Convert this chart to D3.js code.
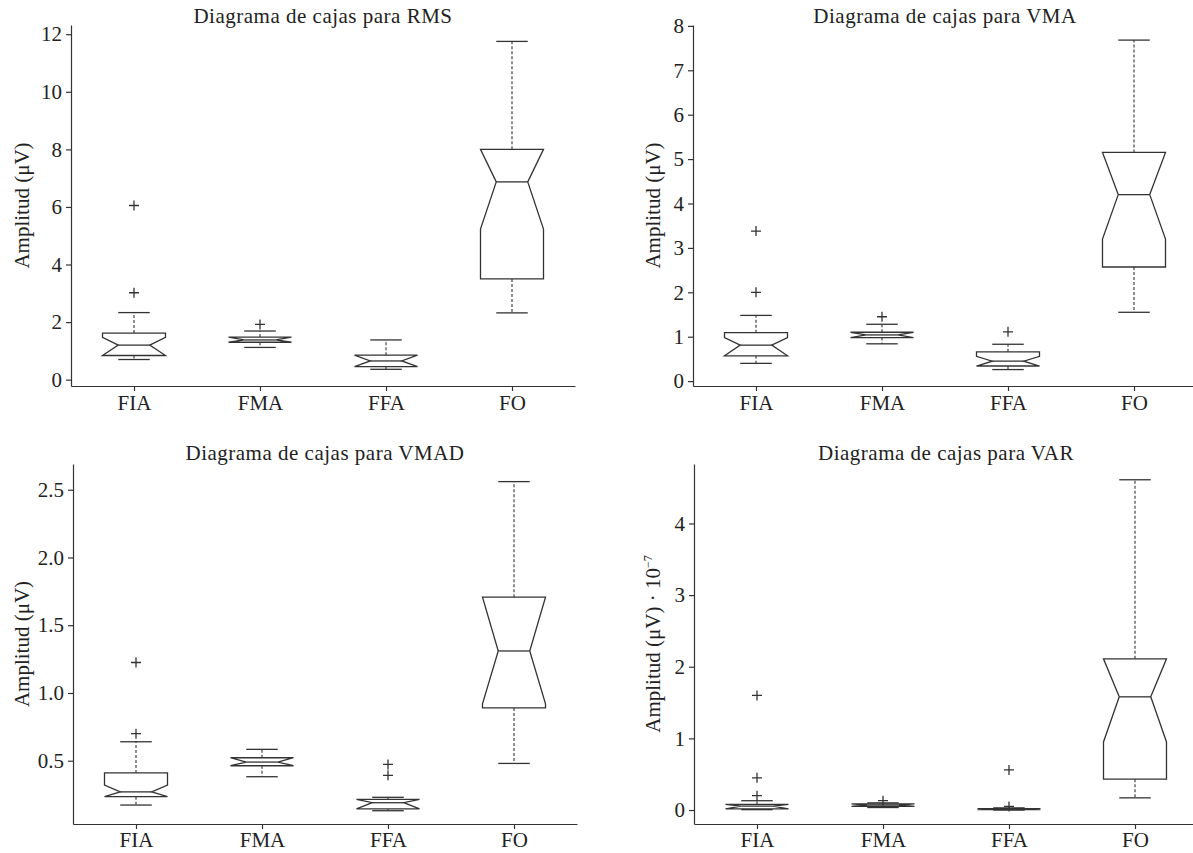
<!DOCTYPE html>
<html>
<head>
<meta charset="utf-8">
<script src="https://cdn.jsdelivr.net/npm/d3@7"></script>
<style>
  body { margin: 0; background: #fff; }
  svg { display: block; }
  .tick text { font-family: "Liberation Serif", serif; font-size: 21px; fill: #222; }
  .domain, .tick line { stroke: #333; stroke-width: 1.2; }
</style>
</head>
<body>
<div class="graph"></div>
<script>
// categories
const groups = ['FIA', 'FMA', 'FFA', 'FO'];

// box stats per group: [whiskerLow, q1, notchLow, median, notchHigh, q3, whiskerHigh]
const rmsBoxes = [
    [0.70, 0.84, 0.84, 1.20, 1.47, 1.62, 2.33],
    [1.12, 1.30, 1.30, 1.38, 1.48, 1.48, 1.69],
    [0.36, 0.45, 0.45, 0.65, 0.85, 0.85, 1.38],
    [2.32, 3.50, 5.23, 6.87, 8.00, 8.00, 11.75]
];
const rmsOutliers = [[3.02, 6.05], [1.92], [], []];

const vmaBoxes = [
    [0.40, 0.57, 0.57, 0.81, 0.98, 1.09, 1.48],
    [0.84, 0.98, 0.98, 1.04, 1.10, 1.10, 1.28],
    [0.26, 0.34, 0.34, 0.45, 0.56, 0.66, 0.83],
    [1.55, 2.57, 3.20, 4.20, 5.15, 5.15, 7.68]
];
const vmaOutliers = [[2.0, 3.38], [1.45], [1.11], []];

const vmadBoxes = [
    [0.173, 0.235, 0.235, 0.27, 0.32, 0.41, 0.64],
    [0.382, 0.463, 0.463, 0.49, 0.522, 0.522, 0.584],
    [0.131, 0.144, 0.144, 0.19, 0.215, 0.215, 0.230],
    [0.48, 0.89, 0.92, 1.31, 1.707, 1.707, 2.56]
];
const vmadOutliers = [[0.70, 1.225], [], [0.392, 0.473], []];

const varBoxes = [
    [0.005, 0.015, 0.015, 0.055, 0.08, 0.08, 0.13],
    [0.035, 0.05, 0.05, 0.07, 0.085, 0.085, 0.10],
    [0.0, 0.005, 0.005, 0.01, 0.02, 0.02, 0.03],
    [0.17, 0.43, 0.95, 1.58, 2.11, 2.11, 4.61]
];
const varOutliers = [[0.20, 0.45, 1.60], [0.13], [0.05, 0.56], []];

// axis limits and tick labels
const rmsDomain = [-0.22, 12.32];
const vmaDomain = [-0.11, 8.02];
const vmadDomain = [0.033, 2.69];
const varDomain = [-0.195, 4.83];
const rmsTicks = [0, 2, 4, 6, 8, 10, 12];
const vmaTicks = [0, 1, 2, 3, 4, 5, 6, 7, 8];
const vmadTicks = [0.5, 1.0, 1.5, 2.0, 2.5];
const varTicks = [0, 1, 2, 3, 4];

const titles = ['Diagrama de cajas para RMS', 'Diagrama de cajas para VMA',
    'Diagrama de cajas para VMAD', 'Diagrama de cajas para VAR'];

const W = 1193, H = 853;
const svg = d3.select('.graph').append('svg').attr('width', W).attr('height', H);
const ink = '#333';
const serif = '"Liberation Serif", serif';

const panels = [
    { title: titles[0], boxes: rmsBoxes, outliers: rmsOutliers, domain: rmsDomain, ticks: rmsTicks, fmt: d3.format('d'),
      x0: 71, x1: 575, yB: 386, yT: 25, titleY: 23, labX: 29, pad: 4, sup: false },
    { title: titles[1], boxes: vmaBoxes, outliers: vmaOutliers, domain: vmaDomain, ticks: vmaTicks, fmt: d3.format('d'),
      x0: 693, x1: 1197, yB: 386, yT: 25, titleY: 23, labX: 660, pad: 4, sup: false },
    { title: titles[2], boxes: vmadBoxes, outliers: vmadOutliers, domain: vmadDomain, ticks: vmadTicks, fmt: d3.format('.1f'),
      x0: 73, x1: 577, yB: 824, yT: 464, titleY: 460, labX: 29, pad: 3, sup: false },
    { title: titles[3], boxes: varBoxes, outliers: varOutliers, domain: varDomain, ticks: varTicks, fmt: d3.format('d'),
      x0: 694, x1: 1198, yB: 824, yT: 464, titleY: 460, labX: 660, pad: 3, sup: true }
];

panels.forEach(p => {
    const g = svg.append('g');

    const xScale = d3.scalePoint().domain(groups).range([p.x0, p.x1]).padding(0.5);
    const yScale = d3.scaleLinear().domain(p.domain).range([p.yB, p.yT]);
    const half = xScale.step() * 0.25;

    // axes
    g.append('g').attr('transform', `translate(0,${p.yB})`)
        .call(d3.axisBottom(xScale).tickSize(5).tickSizeOuter(0).tickPadding(p.pad));
    g.append('g').attr('transform', `translate(${p.x0},0)`)
        .call(d3.axisLeft(yScale).tickValues(p.ticks).tickFormat(p.fmt).tickSize(5).tickSizeOuter(0).tickPadding(4));

    // title
    g.append('text')
        .attr('x', (p.x0 + p.x1) / 2).attr('y', p.titleY)
        .attr('text-anchor', 'middle')
        .style('font-family', serif).style('font-size', '21px').style('letter-spacing', '0.5px')
        .style('fill', '#222')
        .text(p.title);

    // y label
    const lab = g.append('text')
        .attr('transform', `translate(${p.labX},${(p.yB + p.yT) / 2}) rotate(-90)`)
        .attr('text-anchor', 'middle')
        .style('font-family', serif).style('font-size', '21px').style('fill', '#222');
    if (p.sup) {
        lab.append('tspan').text('Amplitud (μV) · 10');
        lab.append('tspan').attr('dy', -8).style('font-size', '12px').text('−7');
    } else {
        lab.text('Amplitud (μV)');
    }

    // boxes
    const box = g.selectAll('.box').data(p.boxes).enter().append('g').attr('class', 'box');

    box.each(function (d, i) {
        const sel = d3.select(this);
        const cx = xScale(groups[i]);
        const [wLo, q1, nLo, med, nHi, q3, wHi] = d;
        const yq1 = yScale(q1), yq3 = yScale(q3);
        const ynLo = yScale(Math.max(nLo, q1)), ynHi = yScale(Math.min(nHi, q3));
        const ym = yScale(med);
        const L = cx - half, R = cx + half, iL = cx - half / 2, iR = cx + half / 2;

        // dashed whiskers
        sel.append('line').attr('x1', cx).attr('x2', cx).attr('y1', yq3).attr('y2', yScale(wHi))
            .attr('stroke', ink).attr('stroke-width', 1.1).attr('stroke-dasharray', '3,2');
        sel.append('line').attr('x1', cx).attr('x2', cx).attr('y1', yq1).attr('y2', yScale(wLo))
            .attr('stroke', ink).attr('stroke-width', 1.1).attr('stroke-dasharray', '3,2');
        // caps
        [wLo, wHi].forEach(v => {
            sel.append('line').attr('x1', cx - half / 2).attr('x2', cx + half / 2)
                .attr('y1', yScale(v)).attr('y2', yScale(v))
                .attr('stroke', ink).attr('stroke-width', 1.3);
        });
        // notched box
        const pts = [[L, yq1], [L, ynLo], [iL, ym], [L, ynHi], [L, yq3],
            [R, yq3], [R, ynHi], [iR, ym], [R, ynLo], [R, yq1]];
        sel.append('path').attr('d', d3.line()(pts) + 'Z')
            .attr('fill', 'none').attr('stroke', ink).attr('stroke-width', 1.3);
        // median
        sel.append('line').attr('x1', iL).attr('x2', iR).attr('y1', ym).attr('y2', ym)
            .attr('stroke', ink).attr('stroke-width', 1.3);
    });

    // outliers as plus signs
    p.outliers.forEach((vals, i) => {
        const cx = xScale(groups[i]);
        g.selectAll(null).data(vals).enter().append('path')
            .attr('d', v => `M${cx - 5},${yScale(v)}H${cx + 5}M${cx},${yScale(v) - 5}V${yScale(v) + 5}`)
            .attr('stroke', ink).attr('stroke-width', 1.3).attr('fill', 'none');
    });
});
</script>
</body>
</html>
